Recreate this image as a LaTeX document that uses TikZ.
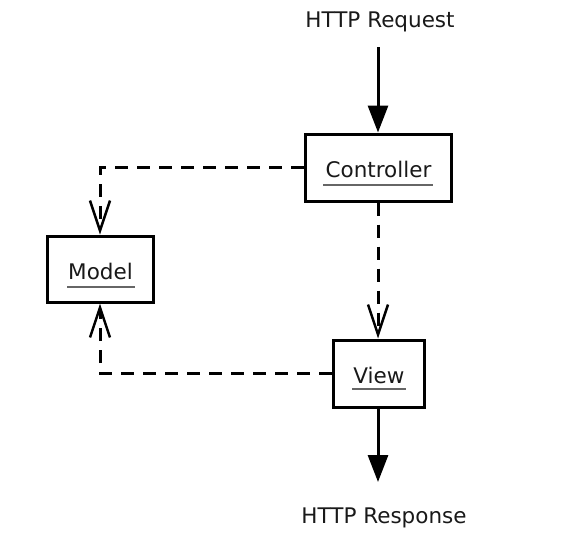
\documentclass[tikz,border=0pt]{standalone}
\usepackage{fontspec}
\setmainfont{DejaVu Sans}
\usetikzlibrary{arrows.meta}
\begin{document}
\begin{tikzpicture}[x=1pt,y=-1pt,
  box/.style={draw=black,line width=3pt,fill=white,inner sep=0pt},
  lbl/.style={font=\fontsize{21.5}{24}\selectfont,text=black!90,inner sep=0pt},
  uline/.style={draw=black!60,line width=1.6pt},
  solidarrow/.style={line width=3pt,-{Triangle[length=27pt,width=20pt]}},
  dasharrow/.style={line width=3pt,dash pattern=on 13pt off 9pt,
     -{Straight Barb[length=30pt,width=20pt,line width=2.5pt]}}]
\useasboundingbox (0,0) rectangle (586,541);
\node[box,minimum width=146pt,minimum height=67pt] (ctrl) at (378,167.5) {};
\node[box,minimum width=106pt,minimum height=66pt] (model) at (100,269) {};
\node[box,minimum width=91pt,minimum height=67pt] (view) at (378.5,373.5) {};
\node[lbl] (ctrlt) at (378.5,169) {Controller};
\node[lbl] (modelt) at (100.5,271) {Model};
\node[lbl] (viewt) at (379,375) {View};
\draw[uline] (323,185) -- (433,185);
\draw[uline] (67,287) -- (135,287);
\draw[uline] (352,389) -- (406,389);
\node[lbl] (req) at (380,22) {HTTP Request};
\node[lbl] (resp) at (384,518) {HTTP Response};
\coordinate (reqtop) at (378,47);
\coordinate (respend) at (378,482);
\draw[solidarrow] (reqtop) -- (ctrl.north);
\draw[solidarrow] (view.south -| respend) -- (respend);
\draw[dasharrow] (ctrl.west) -| (model.north);
\draw[dasharrow] (ctrl.south) -- (ctrl.south |- view.north);
\draw[dasharrow] (view.west) -| (model.south);
\end{tikzpicture}
\end{document}
